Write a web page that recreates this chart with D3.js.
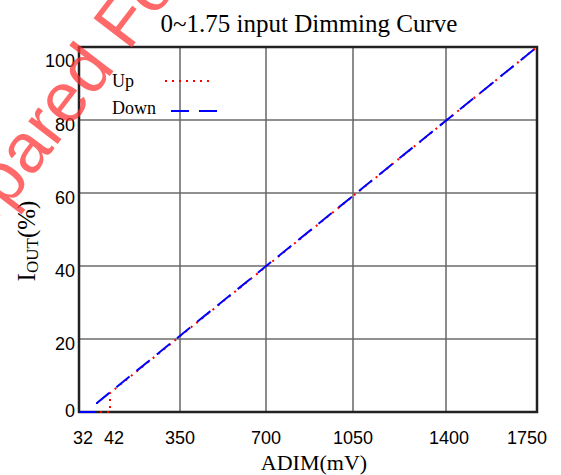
<!DOCTYPE html>
<html>
<head>
<meta charset="utf-8">
<script src="https://cdn.jsdelivr.net/npm/d3@7"></script>
<style>
  body { margin: 0; background: #fff; }
  svg { display: block; }
</style>
</head>
<body>
<div id="chart"></div>
<script>
// data
const xTicks = [32, 42, 350, 700, 1050, 1400, 1750];
const yTicks = [0, 20, 40, 60, 80, 100];
const upCurve = [[0, 0], [42, 0], [42, 5.2], [1750, 100]];
const downCurve = [[0, 0], [32, 0], [32, 2.5], [1750, 100]];
const seriesNames = ['Up', 'Down'];

const width = 561, height = 475;

const svg = d3.select('#chart').append('svg')
  .attr('width', width)
  .attr('height', height);

// x axis in the source is not linear near zero, so piecewise
const x = d3.scaleLinear()
  .domain([0, 32, 42, 350, 700, 1050, 1400, 1750])
  .range([79, 97, 110, 180, 266, 353, 446, 537]);
const y = d3.scaleLinear().domain([0, 100]).range([412, 47]);

// grid
svg.append('g')
  .selectAll('line')
  .data(yTicks.filter(d => d > 0 && d < 100))
  .enter()
  .append('line')
  .attr('x1', x(0)).attr('x2', x(1750))
  .attr('y1', d => y(d)).attr('y2', d => y(d))
  .attr('stroke', '#222')
  .attr('stroke-width', 1.2);

svg.append('g')
  .selectAll('line')
  .data(xTicks.filter(d => d > 42 && d < 1750))
  .enter()
  .append('line')
  .attr('x1', d => x(d)).attr('x2', d => x(d))
  .attr('y1', y(0)).attr('y2', y(100))
  .attr('stroke', '#666')
  .attr('stroke-width', 1.5);

// frame
svg.append('rect')
  .attr('x', x(0)).attr('y', y(100))
  .attr('width', x(1750) - x(0))
  .attr('height', y(0) - y(100))
  .attr('fill', 'none')
  .attr('stroke', '#222')
  .attr('stroke-width', 2.5);

// lines (on top of the frame, as in the source)
const line = d3.line().x(d => x(d[0])).y(d => y(d[1]));

svg.append('path')
  .datum(upCurve)
  .attr('d', line)
  .attr('fill', 'none')
  .attr('stroke', '#ff0000')
  .attr('stroke-width', 2)
  .attr('stroke-dasharray', '2,5');

svg.append('path')
  .datum(downCurve)
  .attr('d', line)
  .attr('fill', 'none')
  .attr('stroke', '#0000ff')
  .attr('stroke-width', 2)
  .attr('stroke-dasharray', '17,9');

// tick labels
const sans = 'Liberation Sans, Arial, sans-serif';
svg.append('g')
  .selectAll('text')
  .data(xTicks)
  .enter()
  .append('text')
  .attr('x', d => x(d))
  .attr('y', 444)
  .attr('dx', d => d === 32 ? -14 : d === 42 ? 4 : d === 1750 ? -10 : d === 1400 ? 3 : 0)
  .attr('text-anchor', 'middle')
  .style('font-family', sans)
  .style('font-size', '18px')
  .text(d => d);

svg.append('g')
  .selectAll('text')
  .data(yTicks)
  .enter()
  .append('text')
  .attr('x', 75)
  .attr('y', d => y(d))
  .attr('dy', d => d === 100 ? 20 : d === 0 ? 5 : 11)
  .attr('text-anchor', 'end')
  .style('font-family', sans)
  .style('font-size', '18px')
  .text(d => d);

// titles
const serif = 'Liberation Serif, Times New Roman, serif';
svg.append('text')
  .attr('x', 309).attr('y', 32)
  .attr('text-anchor', 'middle')
  .style('font-family', serif)
  .style('font-size', '25px')
  .text('0~1.75 input Dimming Curve');

svg.append('text')
  .attr('x', 314).attr('y', 470)
  .attr('text-anchor', 'middle')
  .style('font-family', serif)
  .style('font-size', '22px')
  .text('ADIM(mV)');

const yTitle = svg.append('text')
  .attr('transform', 'translate(35,241) rotate(-90)')
  .attr('text-anchor', 'middle')
  .style('font-family', serif)
  .style('font-size', '25px');
yTitle.append('tspan').text('I');
yTitle.append('tspan').attr('dy', 3).style('font-size', '17px').text('OUT');
yTitle.append('tspan').attr('dy', -3).text('(%)');

// legend
const legend = svg.append('g')
  .selectAll('g')
  .data(seriesNames)
  .enter()
  .append('g')
  .attr('transform', (d, i) => `translate(112,${87 + i * 27})`);

legend.append('text')
  .style('font-family', serif)
  .style('font-size', '18px')
  .text(d => d);

legend.append('line')
  .attr('x1', (d, i) => i === 0 ? 53 : 59)
  .attr('x2', (d, i) => i === 0 ? 102 : 108)
  .attr('y1', (d, i) => i === 0 ? -6 : -3)
  .attr('y2', (d, i) => i === 0 ? -6 : -3)
  .attr('stroke', (d, i) => i === 0 ? '#ff0000' : '#0000ff')
  .attr('stroke-width', 2)
  .attr('stroke-dasharray', (d, i) => i === 0 ? '2,5' : '18,10');

// watermark over the chart
svg.append('text')
  .attr('transform', 'translate(-59,296) rotate(-52.5)')
  .style('font-family', sans)
  .style('font-size', '70px')
  .style('fill', '#ff3030')
  .style('opacity', 0.72)
  .text('Prepared For');
</script>
</body>
</html>
